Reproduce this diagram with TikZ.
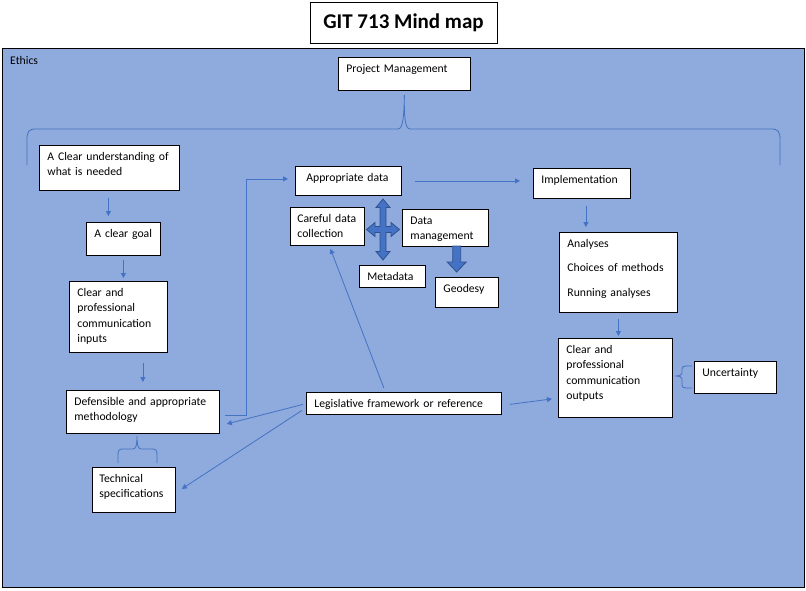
\documentclass[tikz,border=0pt]{standalone}
\usepackage{fontspec}
\setmainfont{Carlito}
\usetikzlibrary{arrows.meta, calc}

\definecolor{panelblue}{HTML}{8FAADC}
\definecolor{linkblue}{HTML}{4472C4}
\definecolor{arrowedge}{HTML}{2F528F}

\begin{document}
\begin{tikzpicture}[x=1pt, y=-1pt,
    box/.style={draw=black, line width=0.8pt, fill=white, anchor=north west, align=left,
        inner xsep=8pt, inner ysep=0pt, text height=15pt, font=\fontsize{11.7}{15.5}\selectfont},
    conn/.style={draw=linkblue, line width=0.8pt, -{Triangle[length=5pt, width=5pt]}},
    bracket/.style={draw=linkblue, line width=0.8pt},
    blockarrow/.style={fill=linkblue, draw=arrowedge, line width=0.8pt}]

        % Okvir slike
        \useasboundingbox (0,0) rectangle (806,590);

        % Naslov
        \node[draw=black, line width=0.8pt, fill=white, minimum width=187pt, minimum height=41pt,
            inner sep=0pt, font=\bfseries\fontsize{21}{25}\selectfont] (title) at (403.5,22.5) {GIT 713 Mind map};

        % Podloga (Ethics)
        \node[draw=black, line width=0.8pt, fill=panelblue, anchor=north west,
            minimum width=802pt, minimum height=539pt, inner sep=0pt] (ethics) at (2,48) {};
        \node[anchor=base west, inner sep=0pt, font=\fontsize{11.7}{15.5}\selectfont] (ethicslbl) at (10,64) {Ethics};

        % Kutije
        \node[box, text width=116pt, text depth=18pt] (pm) at (338,57) {Project Management};
        \node[box, text width=124pt, text depth=30pt] (need) at (39,145) {A Clear understanding of\\what is needed};
        \node[box, text width=58pt, text depth=18pt] (goal) at (86,222) {A clear goal};
        \node[box, text width=82pt, text depth=56pt] (inputs) at (69,281) {Clear and\\professional\\communication\\inputs};
        \node[box, text width=137pt, text depth=28pt] (method) at (66,390) {Defensible and appropriate\\methodology};
        \node[box, inner xsep=7pt, text width=69pt, text depth=30pt] (techspec) at (92,467) {Technical\\specifications};
        \node[box, inner xsep=11pt, text width=84pt, text depth=14pt] (data) at (295,166) {Appropriate data};
        \node[box, inner xsep=7pt, text width=60pt, text depth=23pt] (careful) at (290,207) {Careful data\\collection};
        \node[box, text width=70pt, text depth=22pt] (datamgmt) at (402,209) {Data\\management};
        \node[box, text width=50pt, text depth=7pt] (metadata) at (359,265) {Metadata};
        \node[box, text width=47pt, text depth=15pt] (geodesy) at (435,277) {Geodesy};
        \node[box, text width=81pt, text depth=15pt] (impl) at (533,168) {Implementation};
        \node[box, text width=102pt, text depth=65pt] (analyses) at (559,232) {Analyses\\[9pt]Choices of methods\\[9pt]Running analyses};
        \node[box, text width=98pt, text depth=64pt] (outputs) at (558,338) {Clear and\\professional\\communication\\outputs};
        \node[box, text width=66pt, text depth=17pt] (uncert) at (694,361) {Uncertainty};
        \node[box, text width=179pt, text depth=7pt] (legis) at (306,392) {Legislative framework or reference};

        % Vitice
        \coordinate (pmtip) at ($(pm.south)+(0,4)$);
        \draw[bracket] (27,165) -- (27,140) .. controls (27,131) and (29,129) .. (36,129) -- (398,129)
            .. controls (403,129) and (404,116) .. (pmtip) .. controls (404,116) and (405,129) .. (410,129)
            -- (771,129) .. controls (778,129) and (780,131) .. (780,140) -- (780,165);
        \draw[bracket] (118,463) -- (118,455) .. controls (118,450) and (119,449) .. (123,449) -- (133,449)
            .. controls (136,449) and (137,445) .. (137,436) .. controls (137,445) and (138,449) .. (141,449)
            -- (152,449) .. controls (156,449) and (157,450) .. (157,455) -- (157,463);
        \draw[bracket] (692,366) -- (686,366) .. controls (683,366) and (682,367) .. (682,369) -- (682,373)
            .. controls (682,375) and (680,376) .. (675,376) .. controls (680,376) and (682,377) .. (682,379)
            -- (682,385) .. controls (682,387) and (683,388) .. (686,388) -- (692,388);

        % Strelice lijevo
        \draw[conn] ($(need.south)+(-1,7)$) -- ($(need.south |- goal.north)+(-1,-6)$);
        \draw[conn] ($(goal.south)+(0,4)$) -- ($(goal.south |- inputs.north)+(0,-3)$);
        \draw[conn] ($(method.north |- inputs.south)+(0,10)$) -- ($(method.north)+(0,-8)$);
        \draw[conn] ($(method.east)+(5,3)$) -- ++(22,0) |- ($(data.west)+(-7,-2)$);

        % Strelice desno
        \draw[conn] ($(data.east)+(13,0)$) -- ($(data.east -| impl.west)+(-13,0)$);
        \draw[conn] ($(impl.south)+(4,7)$) -- ($(impl.south |- analyses.north)+(4,-5)$);
        \draw[conn] ($(analyses.south)+(0,6)$) -- ($(analyses.south |- outputs.north)+(0,-2)$);

        % Strelice iz zakonskog okvira
        \draw[conn] ($(legis.north)+(-20,-4)$) -- ($(careful.south)+(3,3)$);
        \draw[conn] ($(legis.west)+(-3,1)$) -- ($(method.east)+(7,12)$);
        \draw[conn] ($(legis.west)+(-4,7)$) -- ($(techspec.east)+(6,-1)$);
        \draw[conn] ($(legis.east)+(8,1)$) -- ($(outputs.west)+(-6,21)$);

        % Blok strelice
        \draw[blockarrow, shift={(383,229.5)}] (0,-30.5) -- (7,-22) -- (3,-22) -- (3,-3) -- (8,-3) -- (8,-7)
            -- (16.5,0) -- (8,7) -- (8,3) -- (3,3) -- (3,22) -- (7,22) -- (0,30.5) -- (-7,22) -- (-3,22)
            -- (-3,3) -- (-8,3) -- (-8,7) -- (-16.5,0) -- (-8,-7) -- (-8,-3) -- (-3,-3) -- (-3,-22)
            -- (-7,-22) -- cycle;
        \draw[blockarrow, shift={(456.7,246)}] (-4,0) -- (4,0) -- (4,16) -- (9.5,16) -- (0,26)
            -- (-9.5,16) -- (-4,16) -- cycle;

    \end{tikzpicture}
\end{document}
